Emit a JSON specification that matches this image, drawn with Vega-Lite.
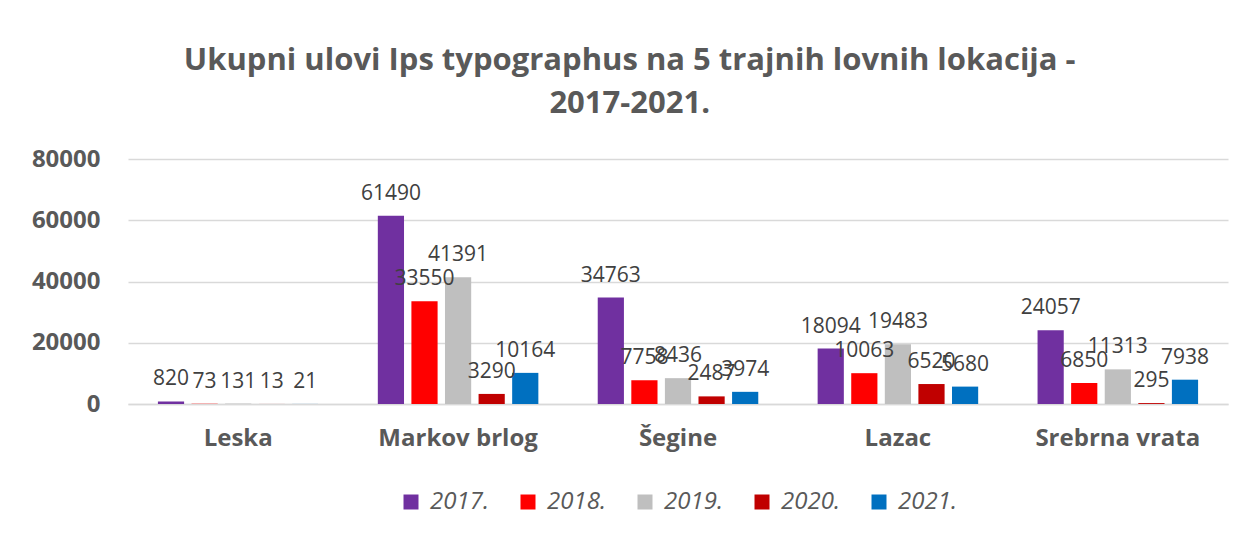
{
  "$schema": "https://vega.github.io/schema/vega-lite/v6.json",
  "autosize": {"type": "none"},
  "width": 1100,
  "height": 245,
  "padding": {"left": 128, "top": 159, "right": 18, "bottom": 129},
  "background": "white",
  "title": {
    "text": ["Ukupni ulovi Ips typographus na 5 trajnih lovnih lokacija -", "2017-2021."],
    "font": "Open Sans",
    "fontSize": 31,
    "fontWeight": "bold",
    "color": "#595959",
    "lineHeight": 43,
    "offset": 27,
    "anchor": "middle",
    "frame": "bounds"
  },
  "data": {
    "values": [
      {"lokacija": "Leska", "godina": "2017.", "ulov": 820},
      {"lokacija": "Leska", "godina": "2018.", "ulov": 73},
      {"lokacija": "Leska", "godina": "2019.", "ulov": 131},
      {"lokacija": "Leska", "godina": "2020.", "ulov": 13},
      {"lokacija": "Leska", "godina": "2021.", "ulov": 21},
      {"lokacija": "Markov brlog", "godina": "2017.", "ulov": 61490},
      {"lokacija": "Markov brlog", "godina": "2018.", "ulov": 33550},
      {"lokacija": "Markov brlog", "godina": "2019.", "ulov": 41391},
      {"lokacija": "Markov brlog", "godina": "2020.", "ulov": 3290},
      {"lokacija": "Markov brlog", "godina": "2021.", "ulov": 10164},
      {"lokacija": "Šegine", "godina": "2017.", "ulov": 34763},
      {"lokacija": "Šegine", "godina": "2018.", "ulov": 7758},
      {"lokacija": "Šegine", "godina": "2019.", "ulov": 8436},
      {"lokacija": "Šegine", "godina": "2020.", "ulov": 2487},
      {"lokacija": "Šegine", "godina": "2021.", "ulov": 3974},
      {"lokacija": "Lazac", "godina": "2017.", "ulov": 18094},
      {"lokacija": "Lazac", "godina": "2018.", "ulov": 10063},
      {"lokacija": "Lazac", "godina": "2019.", "ulov": 19483},
      {"lokacija": "Lazac", "godina": "2020.", "ulov": 6520},
      {"lokacija": "Lazac", "godina": "2021.", "ulov": 5680},
      {"lokacija": "Srebrna vrata", "godina": "2017.", "ulov": 24057},
      {"lokacija": "Srebrna vrata", "godina": "2018.", "ulov": 6850},
      {"lokacija": "Srebrna vrata", "godina": "2019.", "ulov": 11313},
      {"lokacija": "Srebrna vrata", "godina": "2020.", "ulov": 295},
      {"lokacija": "Srebrna vrata", "godina": "2021.", "ulov": 7938}
    ]
  },
  "encoding": {
    "x": {
      "field": "lokacija",
      "type": "nominal",
      "sort": ["Leska", "Markov brlog", "Šegine", "Lazac", "Srebrna vrata"],
      "scale": {"paddingInner": 0.27, "paddingOuter": 0.136},
      "axis": {
        "title": null,
        "labelAngle": 0,
        "labelFont": "Open Sans",
        "labelFontSize": 24,
        "labelFontWeight": "bold",
        "labelColor": "#595959",
        "labelPadding": 22,
        "ticks": false,
        "domainColor": "#D9D9D9",
        "domainWidth": 1.5,
        "grid": false
      }
    },
    "xOffset": {
      "field": "godina",
      "type": "nominal",
      "scale": {"paddingInner": 0.22, "paddingOuter": 0}
    },
    "y": {
      "field": "ulov",
      "type": "quantitative",
      "scale": {"domain": [0, 80000]},
      "axis": {
        "title": null,
        "values": [0, 20000, 40000, 60000, 80000],
        "format": "d",
        "labelFont": "Open Sans",
        "labelFontSize": 24,
        "labelFontWeight": "bold",
        "labelColor": "#595959",
        "labelPadding": 28,
        "ticks": false,
        "domain": false,
        "gridColor": "#D9D9D9",
        "gridWidth": 1.5
      }
    }
  },
  "layer": [
    {
      "mark": {"type": "bar"},
      "encoding": {
        "color": {
          "field": "godina",
          "type": "nominal",
          "scale": {
            "domain": ["2017.", "2018.", "2019.", "2020.", "2021."],
            "range": ["#7030A0", "#FF0000", "#BFBFBF", "#C00000", "#0070C0"]
          },
          "legend": {
            "title": null,
            "orient": "bottom",
            "direction": "horizontal",
            "symbolType": "square",
            "symbolSize": 225,
            "symbolStrokeWidth": 0,
            "labelFont": "Open Sans",
            "labelFontSize": 24,
            "labelFontStyle": "italic",
            "labelColor": "#595959",
            "labelOffset": 7,
            "columnPadding": 27,
            "offset": 40
          }
        }
      }
    },
    {
      "mark": {
        "type": "text",
        "baseline": "alphabetic",
        "dy": -16,
        "font": "Open Sans",
        "fontSize": 21,
        "color": "#404040"
      },
      "encoding": {
        "text": {"field": "ulov", "type": "quantitative", "format": "d"}
      }
    }
  ],
  "config": {
    "view": {"stroke": null},
    "legend": {"layout": {"bottom": {"anchor": "middle"}}}
  }
}
